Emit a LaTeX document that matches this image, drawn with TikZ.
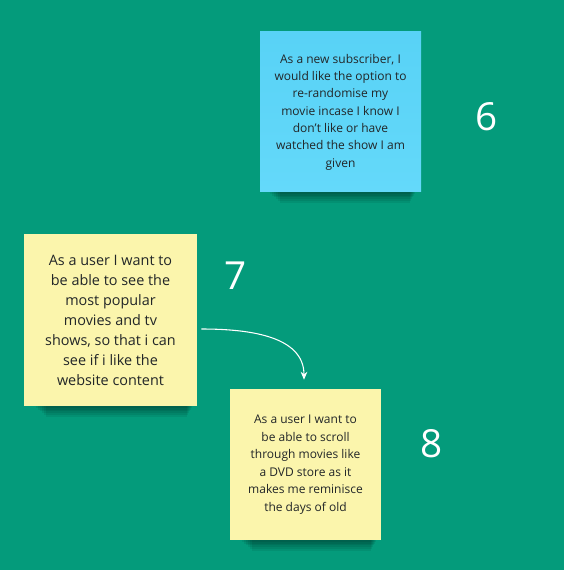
\documentclass[tikz,border=0pt]{standalone}
\usepackage{fontspec}
\setmainfont{Open Sans}
\usepackage{xcolor}
\usepackage{tikz}
\usetikzlibrary{arrows.meta,positioning}
\definecolor{boardgreen}{RGB}{4,155,123}
\definecolor{stickyblue}{RGB}{88,210,246}
\definecolor{stickyblue2}{RGB}{100,217,250}
\definecolor{stickyyellow}{RGB}{251,245,172}
\definecolor{stickytext}{RGB}{34,38,40}
\tikzset{
    sticky/.style={draw=none,align=center,text=stickytext,inner sep=0pt},
    bluenote/.style={sticky,top color=stickyblue,bottom color=stickyblue2,
        minimum width=120.75pt,minimum height=120pt,
        font=\fontsize{9}{13}\selectfont},
    yellownote/.style={sticky,fill=stickyyellow},
    prionum/.style={text=white,font=\fontsize{29}{32}\selectfont},
    flow/.style={draw=white,line width=0.8pt,-{Stealth[length=6pt,width=5pt]}}
}

\begin{document}
\begin{tikzpicture}[x=0.75pt,y=-0.75pt]
    % Draw the board
    \fill[boardgreen] (0,0) rectangle (564,570);
    \useasboundingbox (0,0) rectangle (564,570);

    % Draw shadows under the notes
    \foreach \l/\r/\b in {268/416/192, 34/193/406, 240/377/540}
        \foreach \i in {1,...,6}
            \fill[black,opacity=0.07] (\l+\i*2,\b) rectangle (\r-\i,\b+\i*1.8);

    % Draw the sticky notes
    \node[bluenote] (note6) at (340.5,112) {As a new subscriber, I\\would like the option to\\re-randomise my\\movie incase I know I\\don't like or have\\watched the show I am\\given};
    \node[yellownote,minimum width=129.75pt,minimum height=129pt,
        font=\fontsize{10.8}{15}\selectfont] (note7) at (110.5,320)
        {As a user I want to\\be able to see the\\most popular\\movies and tv\\shows, so that i can\\see if i like the\\website content};
    \node[yellownote,minimum width=113.25pt,minimum height=113.25pt,
        font=\fontsize{9}{13.1}\selectfont] (note8) at (305.5,464.5)
        {As a user I want to\\be able to scroll\\through movies like\\a DVD store as it\\makes me reminisce\\the days of old};

    % Add priority numbers
    \node[prionum] (num6) at (487,117) {6};
    \node[prionum] (num7) at (236,276) {7};
    \node[prionum] (num8) at (432,444) {8};

    % Draw the link between notes
    \draw[flow] ([shift={(4,9)}]note7.east) to[out=0,in=90] ([shift={(-1.5,-9)}]note8.north);
\end{tikzpicture}
\end{document}
